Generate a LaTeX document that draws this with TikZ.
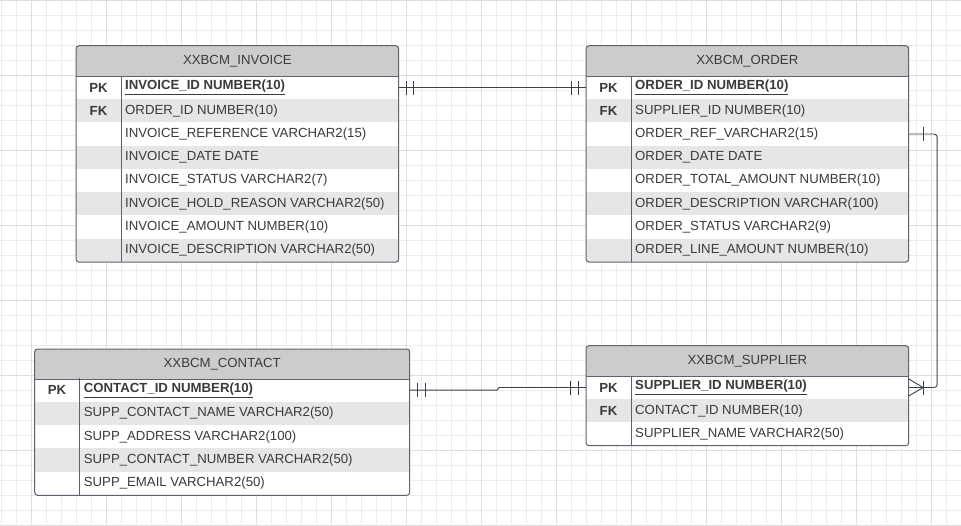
\documentclass[tikz,border=0pt]{standalone}
\usepackage{fontspec}
\setmainfont{Liberation Sans}
\usepackage{tikz}
\usepackage{xcolor}
\usetikzlibrary{calc}

\definecolor{txt}{RGB}{58,58,58}
\definecolor{edgegray}{RGB}{92,99,110}
\definecolor{linkgray}{RGB}{60,66,76}
\definecolor{hdrgray}{RGB}{204,204,204}
\definecolor{rowgray}{RGB}{230,230,230}
\definecolor{gridminor}{RGB}{236,236,236}
\definecolor{gridmajor}{RGB}{222,222,222}

\tikzset{
  hdr/.style={fill=hdrgray,inner sep=0,anchor=north west,text=txt,
    font=\fontsize{13.2}{15}\selectfont},
  row/.style={inner sep=0,anchor=north west},
  key/.style={inner sep=0,text=txt,font=\fontsize{13.2}{15}\selectfont\bfseries},
  fld/.style={inner sep=0,anchor=west,text=txt,font=\fontsize{13.2}{15}\selectfont},
  edge/.style={draw=edgegray,line width=1pt},
  link/.style={draw=linkgray,line width=0.9pt},
}

\begin{document}
\begin{tikzpicture}[x=1pt,y=-1pt]
  \useasboundingbox (0,0) rectangle (961,525);
  % background grid
  \foreach \k in {0,...,63}
    \draw[gridminor,line width=0.8pt] ({1.7+15*\k},0) -- ({1.7+15*\k},525);
  \foreach \k in {0,...,35}
    \draw[gridminor,line width=0.8pt] (0,{15*\k}) -- (961,{15*\k});
  \foreach \k in {0,...,12}
    \draw[gridmajor,line width=0.9pt] ({31.7+75*\k},0) -- ({31.7+75*\k},525);
  \foreach \k in {0,...,7}
    \draw[gridmajor,line width=0.9pt] (0,{75*\k}) -- (961,{75*\k});

  % XXBCM_INVOICE
  \node[hdr,minimum width=322.3,minimum height=30] (inv) at (76,45.7) {XXBCM\_INVOICE};
  \foreach \i/\k/\f in {1/PK/{\underline{\textbf{INVOICE\_ID NUMBER(10)}}},
      2/FK/ORDER\_ID NUMBER(10),3//INVOICE\_REFERENCE VARCHAR2(15),
      4//INVOICE\_DATE DATE,5//INVOICE\_STATUS VARCHAR2(7),
      6//INVOICE\_HOLD\_REASON VARCHAR2(50),7//INVOICE\_AMOUNT NUMBER(10),
      8//INVOICE\_DESCRIPTION VARCHAR2(50)}{
    \pgfmathtruncatemacro\s{100*(1-mod(\i,2))}
    \node[row,minimum width=322.3,minimum height=23.25,fill=rowgray!\s]
      (inv-\i) at (76,{75.7+23.25*(\i-1)}) {};
    \node[key] (inv-k\i) at ([xshift=22.5]inv-\i.west) {\k};
    \node[fld] (inv-f\i) at ([xshift=49]inv-\i.west) {\f};
  }
  \draw[edge] ([xshift=45]inv-1.north west) -- ([xshift=45]inv-8.south west);
  \draw[edge,line width=0.4pt] (inv.south west) -- (inv.south east);
  \draw[edge,rounded corners=3] (inv.north west) rectangle (inv-8.south east);

  % XXBCM_ORDER
  \node[hdr,minimum width=322.3,minimum height=30] (ord) at (586,45.7) {XXBCM\_ORDER};
  \foreach \i/\k/\f in {1/PK/{\underline{\textbf{ORDER\_ID NUMBER(10)}}},
      2/FK/SUPPLIER\_ID NUMBER(10),3//ORDER\_REF\_VARCHAR2(15),
      4//ORDER\_DATE DATE,5//ORDER\_TOTAL\_AMOUNT NUMBER(10),
      6//ORDER\_DESCRIPTION VARCHAR(100),7//ORDER\_STATUS VARCHAR2(9),
      8//ORDER\_LINE\_AMOUNT NUMBER(10)}{
    \pgfmathtruncatemacro\s{100*(1-mod(\i,2))}
    \node[row,minimum width=322.3,minimum height=23.25,fill=rowgray!\s]
      (ord-\i) at (586,{75.7+23.25*(\i-1)}) {};
    \node[key] (ord-k\i) at ([xshift=22.5]ord-\i.west) {\k};
    \node[fld] (ord-f\i) at ([xshift=49]ord-\i.west) {\f};
  }
  \draw[edge] ([xshift=45]ord-1.north west) -- ([xshift=45]ord-8.south west);
  \draw[edge,line width=0.4pt] (ord.south west) -- (ord.south east);
  \draw[edge,rounded corners=3] (ord.north west) rectangle (ord-8.south east);

  % XXBCM_CONTACT
  \node[hdr,minimum width=374.6,minimum height=29.3] (con) at (34.7,349) {XXBCM\_CONTACT};
  \foreach \i/\k/\f in {1/PK/{\underline{\textbf{CONTACT\_ID NUMBER(10)}}},
      2//SUPP\_CONTACT\_NAME VARCHAR2(50),3//SUPP\_ADDRESS VARCHAR2(100),
      4//SUPP\_CONTACT\_NUMBER VARCHAR2(50),5//SUPP\_EMAIL VARCHAR2(50)}{
    \pgfmathtruncatemacro\s{100*(1-mod(\i,2))}
    \node[row,minimum width=374.6,minimum height=23.33,fill=rowgray!\s]
      (con-\i) at (34.7,{378.3+23.33*(\i-1)}) {};
    \node[key] (con-k\i) at ([xshift=22.3]con-\i.west) {\k};
    \node[fld] (con-f\i) at ([xshift=49]con-\i.west) {\f};
  }
  \draw[edge] ([xshift=44.6]con-1.north west) -- ([xshift=44.6]con-5.south west);
  \draw[edge,line width=0.4pt] (con.south west) -- (con.south east);
  \draw[edge,rounded corners=3] (con.north west) rectangle (con-5.south east);

  % XXBCM_SUPPLIER
  \node[hdr,minimum width=322.3,minimum height=30] (sup) at (586,345.7) {XXBCM\_SUPPLIER};
  \foreach \i/\k/\f in {1/PK/{\underline{\textbf{SUPPLIER\_ID NUMBER(10)}}},
      2/FK/CONTACT\_ID NUMBER(10),3//SUPPLIER\_NAME VARCHAR2(50)}{
    \pgfmathtruncatemacro\s{100*(1-mod(\i,2))}
    \node[row,minimum width=322.3,minimum height=23.2,fill=rowgray!\s]
      (sup-\i) at (586,{375.7+23.2*(\i-1)}) {};
    \node[key] (sup-k\i) at ([xshift=22.5]sup-\i.west) {\k};
    \node[fld] (sup-f\i) at ([xshift=49]sup-\i.west) {\f};
  }
  \draw[edge] ([xshift=45]sup-1.north west) -- ([xshift=45]sup-3.south west);
  \draw[edge,line width=0.4pt] (sup.south west) -- (sup.south east);
  \draw[edge,rounded corners=3] (sup.north west) rectangle (sup-3.south east);

  % relationships
  \draw[link] (inv-1.east) -- (ord-1.west);
  \foreach \d in {8,15}{
    \draw[link] ([xshift=\d]inv-1.east) +(0,-7) -- +(0,7);
    \draw[link] ([xshift=-\d]ord-1.west) +(0,-7) -- +(0,7);
  }
  \draw[link] (con-1.east) -- ++(87.4,0) -- ($(sup-1.west)+(-87,0)$) -- (sup-1.west);
  \foreach \d in {8,15.7}{
    \draw[link] ([xshift=\d]con-1.east) +(0,-7) -- +(0,7);
    \draw[link] ([xshift=-\d]sup-1.west) +(0,-7) -- +(0,7);
  }
  \draw[link,rounded corners=3] (ord-3.east) -- ++(28.4,0) |- (sup-1.east);
  \draw[link] ([xshift=15]ord-3.east) +(0,-7) -- +(0,7);
  \draw[link] ([yshift=8.5]sup-1.east) -- ([xshift=14.5]sup-1.east) -- ([yshift=-8.5]sup-1.east);
  \draw[link] ([xshift=15]sup-1.east) +(0,-7) -- +(0,7);
\end{tikzpicture}
\end{document}
